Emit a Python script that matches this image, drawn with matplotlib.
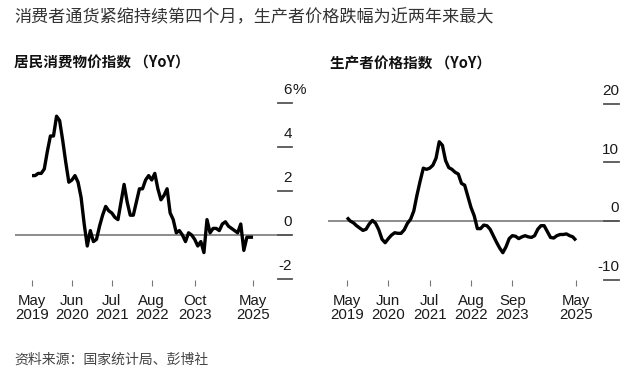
import matplotlib
matplotlib.use("Agg")
import matplotlib.pyplot as plt
import matplotlib.transforms as mtransforms
import numpy as np
import pandas as pd

plt.rcParams['font.family'] = ['Liberation Sans', 'Noto Sans CJK SC', 'DejaVu Sans']

# ---------------- data ----------------
dates = pd.date_range('2019-05-01', '2025-05-01', freq='MS')

cpi = [2.7, 2.7, 2.8, 2.8, 3.0, 3.8, 4.5, 4.5,
       5.4, 5.2, 4.3, 3.3, 2.4, 2.5, 2.7, 2.4, 1.7, 0.5, -0.5, 0.2,
       -0.3, -0.2, 0.4, 0.9, 1.3, 1.1, 1.0, 0.8, 0.7, 1.5, 2.3, 1.5,
       0.9, 0.9, 1.5, 2.1, 2.1, 2.5, 2.7, 2.5, 2.8, 2.1, 1.6, 1.8,
       2.1, 1.0, 0.7, 0.1, 0.2, 0.0, -0.3, 0.1, 0.0, -0.2, -0.5, -0.3,
       -0.8, 0.7, 0.1, 0.3, 0.3, 0.2, 0.5, 0.6, 0.4, 0.3, 0.2, 0.1,
       0.5, -0.7, -0.1, -0.1, -0.1]

ppi = [0.6, 0.0, -0.3, -0.8, -1.2, -1.6, -1.4, -0.5,
       0.1, -0.4, -1.5, -3.1, -3.7, -3.0, -2.4, -2.0, -2.1, -2.1, -1.5, -0.4,
       0.3, 1.7, 4.4, 6.8, 9.0, 8.8, 9.0, 9.5, 10.7, 13.5, 12.9, 10.3,
       9.1, 8.8, 8.3, 8.0, 6.4, 6.1, 4.2, 2.3, 0.9, -1.3, -1.3, -0.7,
       -0.8, -1.4, -2.5, -3.6, -4.6, -5.4, -4.4, -3.0, -2.5, -2.6, -3.0, -2.7,
       -2.5, -2.7, -2.8, -2.5, -1.4, -0.8, -0.8, -1.8, -2.8, -2.9, -2.5, -2.3,
       -2.3, -2.2, -2.5, -2.7, -3.3]

cpi_ticks = ['2019-05', '2020-06', '2021-07', '2022-08', '2023-10', '2025-05']
ppi_ticks = ['2019-05', '2020-06', '2021-07', '2022-08', '2023-09', '2025-05']
cpi_yticks = [-2, 0, 2, 4, 6]
ppi_yticks = [-10, 0, 10, 20]

title = '消费者通货紧缩持续第四个月，生产者价格跌幅为近两年来最大'
sub_left = '居民消费物价指数 （YoY）'
sub_right = '生产者价格指数 （YoY）'
source = '资料来源：国家统计局、彭博社'

# ---------------- figure ----------------
W, H = 640, 377
fig = plt.figure(figsize=(W / 100, H / 100), dpi=100)
fig.patch.set_facecolor('white')


def rect(x0, y0, x1, y1):
    return [x0 / W, 1 - y1 / H, (x1 - x0) / W, (y1 - y0) / H]


months = np.arange(len(dates))


def month_idx(s):
    d = pd.Timestamp(s + '-01')
    return (d.year - dates[0].year) * 12 + (d.month - dates[0].month)


def make_panel(box, series, xlim, ylim, xticks, yticks, top_suffix):
    ax = fig.add_axes(rect(*box))
    ax.plot(months, series, color='black', lw=2.4, solid_joinstyle='round',
            solid_capstyle='butt', zorder=3)
    ax.axhline(0, color='#6e6e6e', lw=1.1, zorder=2)
    ax.set_xlim(*xlim)
    ax.set_ylim(*ylim)
    for s in ax.spines.values():
        s.set_visible(False)
    # x ticks
    xt = [month_idx(t) for t in xticks]
    xl = [pd.Timestamp(t + '-01').strftime('%b\n%Y') for t in xticks]
    ax.set_xticks(xt)
    ax.set_xticklabels(xl, fontsize=10.8, color='#1a1a1a', linespacing=1.05)
    ax.tick_params(axis='x', length=4, width=0.8, color='#777777', pad=6, direction='out')
    # y: dashes on the right, labels above them
    ax.set_yticks([])
    trans = mtransforms.blended_transform_factory(ax.transAxes, ax.transData)
    for v in yticks:
        ax.plot([0.95, 1.0], [v, v], transform=trans, color='#555555', lw=1.3,
                clip_on=False, zorder=2)
        lab = f'{v}'
        off = mtransforms.ScaledTranslation(0, 12.5 / 100, fig.dpi_scale_trans)
        ax.text(1.0, v, lab, transform=trans + off, ha='right', va='center',
                fontsize=11, color='#1a1a1a')
        if v == max(yticks) and top_suffix:
            off2 = mtransforms.ScaledTranslation(0.5 / 100, 12.5 / 100, fig.dpi_scale_trans)
            ax.text(1.0, v, top_suffix, transform=trans + off2, ha='left', va='center',
                    fontsize=11, color='#1a1a1a')
    return ax


# left panel geometry: x 15..292 px, y 95..280 px
# zero at y=235, 22 px/unit; May 2019 at x=32, 3.07 px/month
lx0, lx1, ly0, ly1 = 15, 292, 95, 280
l_ylim = ((235 - ly1) / 22.0, (235 - ly0) / 22.0)
l_xlim = ((lx0 - 32) / 3.07, (lx1 - 32) / 3.07)
make_panel((lx0, ly0, lx1, ly1), cpi, l_xlim, l_ylim, cpi_ticks, cpi_yticks, '%')

# right panel geometry: x 328..619 px
# zero at y=221, 5.87 px/unit; May 2019 at x=347, 3.18 px/month
rx0, rx1, ry0, ry1 = 328, 619, 95, 280
r_ylim = ((221 - ry1) / 5.87, (221 - ry0) / 5.87)
r_xlim = ((rx0 - 347) / 3.18, (rx1 - 347) / 3.18)
make_panel((rx0, ry0, rx1, ry1), ppi, r_xlim, r_ylim, ppi_ticks, ppi_yticks, '')

cjk = ['Noto Sans CJK SC', 'DejaVu Sans']
fig.text(14 / W, 1 - 17 / H, title, fontsize=12.3, color='#333333', family=cjk,
         ha='left', va='center')
fig.text(14 / W, 1 - 63 / H, sub_left, fontsize=10.5, fontweight='bold', color='#111111',
         family=cjk, ha='left', va='center')
fig.text(330 / W, 1 - 63 / H, sub_right, fontsize=10.5, fontweight='bold', color='#111111',
         family=cjk, ha='left', va='center')
fig.text(14 / W, 1 - 360 / H, source, fontsize=10, color='#444444', family=cjk,
         ha='left', va='center')

fig.savefig('out.png', dpi=100, facecolor='white')
